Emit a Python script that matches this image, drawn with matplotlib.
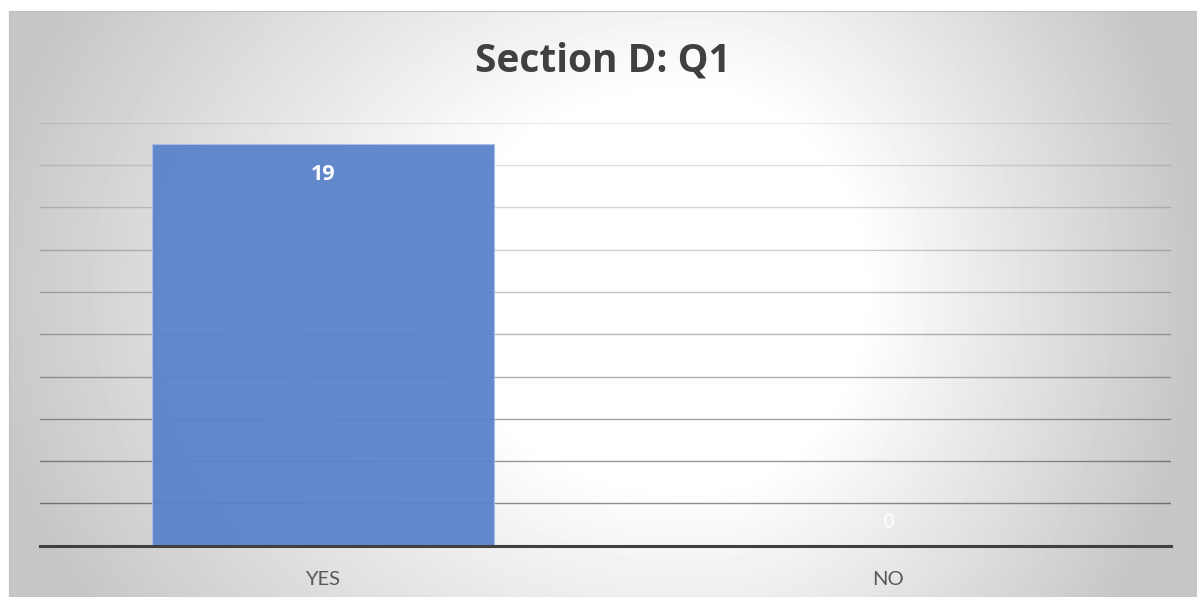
import numpy as np
import matplotlib
matplotlib.use("Agg")
import matplotlib.pyplot as plt

plt.rcParams["font.family"] = ["Lato", "DejaVu Sans"]
BOLD_FONT = ["Open Sans", "DejaVu Sans"]

# Survey answers for Section D, question 1
answers = ["YES", "NO"]
counts = [19, 0]
title = "Section D: Q1"

W_PX, H_PX = 1197, 597
fig = plt.figure(figsize=(W_PX / 100, H_PX / 100), dpi=100)
fig.patch.set_facecolor("white")

# chart area box with a soft radial fill (light in the middle, grey at the sides)
box_l, box_t = 9, 11
box_w, box_h = W_PX - box_l, H_PX - box_t
bg = fig.add_axes([box_l / W_PX, 0, box_w / W_PX, box_h / H_PX])
xs = np.arange(box_w) + box_l
ys = np.arange(box_h) + box_t
X, Y = np.meshgrid(xs, ys)
cx, cy = 690.0, 290.0
u = np.where(X < cx, (X - cx) / 716.0, (X - cx) / 506.0)
v = (Y - cy) / 580.0
d = np.sqrt(u ** 2 + v ** 2)
t = np.clip((d - 0.34) / 0.66, 0, 1)
shade = 1 - (1 - 0.776) * t
bg.imshow(shade, cmap="gray", vmin=0, vmax=1, aspect="auto",
          extent=(0, 1, 0, 1), interpolation="bilinear")
bg.set_xlim(0, 1)
bg.set_ylim(0, 1)
bg.set_xticks([])
bg.set_yticks([])
for s in bg.spines.values():
    s.set_color("#bfbfbf")
    s.set_linewidth(0.8)

# plot area
pl, pr, pt, pb = 40, 1171, 123, 545.5
ax = fig.add_axes([pl / W_PX, (H_PX - pb) / H_PX, (pr - pl) / W_PX, (pb - pt) / H_PX])
ax.set_facecolor("none")

x = np.arange(len(answers))
ax.bar(x, counts, width=0.605, color="#5b83cb", alpha=0.95,
       edgecolor="#a8bde6", linewidth=0.8, zorder=3)

for xi, c in zip(x, counts):
    if c > 0:
        ax.annotate(str(c), (xi, c), xytext=(0, -26), textcoords="offset points",
                    ha="center", va="baseline", color="white", family=BOLD_FONT,
                    fontsize=15.5, fontweight="bold", zorder=5)
    else:
        ax.annotate(str(c), (xi, c), xytext=(0, 12.6), textcoords="offset points",
                    ha="center", va="baseline", color="#f7f7f7", family=BOLD_FONT,
                    fontsize=15.5, fontweight="bold", zorder=5)

ax.set_xlim(-0.5, len(answers) - 0.5)
ax.set_ylim(0, 20)
ax.set_yticks(range(0, 21, 2))
ax.yaxis.grid(True, linewidth=1.0, zorder=1)
for level, gl in zip(range(0, 21, 2), ax.get_ygridlines()):
    gl.set_color("black")
    gl.set_alpha(0.08 + 0.02 * (20 - level))
ax.set_axisbelow(True)
ax.tick_params(axis="y", left=False, labelleft=False)

ax.set_xticks(x)
ax.set_xticklabels(answers, fontsize=14.5, color="#595959")
ax.tick_params(axis="x", bottom=False, pad=15)

for side in ["left", "right", "top"]:
    ax.spines[side].set_visible(False)
ax.spines["bottom"].set_color("#404040")
ax.spines["bottom"].set_linewidth(2.2)
ax.spines["bottom"].set_zorder(4)

fig.text((box_l + W_PX) / 2 / W_PX, (H_PX - 72) / H_PX, title,
         ha="center", va="baseline", fontsize=28, fontweight="bold",
         color="#404040", family=BOLD_FONT)

fig.savefig("out.png", dpi=100)
